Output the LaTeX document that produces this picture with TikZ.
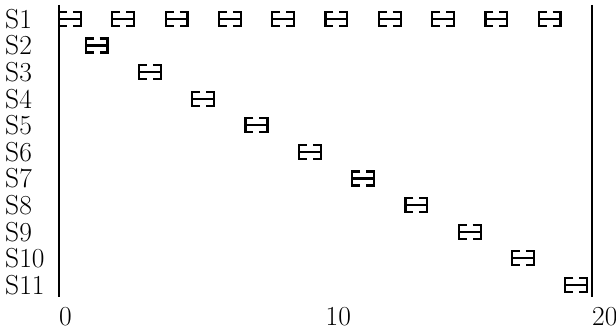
\documentclass[tikz,border=0pt]{standalone}
\begin{document}
\begin{tikzpicture}[x=1pt,y=-1pt,
  lbl/.style={inner sep=0pt,font=\fontsize{27.5}{27.5}\selectfont},
  barline/.style={line width=2.2pt,line join=miter},
  axisline/.style={line width=2pt}]
\useasboundingbox (0,0) rectangle (616,331);
\def\ox{59}\def\ux{26.65}
% vertical lines
\coordinate (atop) at (\ox,5);
\coordinate (abot) at (\ox,297);
\coordinate (btop) at ({\ox+20*\ux},5);
\coordinate (bbot) at ({\ox+20*\ux},297);
\draw[axisline] (atop) -- (abot);
\draw[axisline] (btop) -- (bbot);
% row labels
\foreach \k in {1,...,11}{
  \node[lbl,anchor=west] (s\k) at (5,{19+(\k-1)*26.6}) {S\k};
}
% tick labels
\node[lbl,anchor=north west] (t0) at (\ox,307) {0};
\node[lbl,anchor=north west] (t10) at ({\ox+10*\ux},307) {10};
\node[lbl,anchor=north west] (t20) at ({\ox+20*\ux},307) {20};
% bar macro: #1 start time, #2 row
\newcommand\gbar[2]{%
  \pgfmathsetmacro\xa{\ox+#1*\ux}%
  \pgfmathsetmacro\xb{\xa+0.82*\ux}%
  \pgfmathsetmacro\xm{(\xa+\xb)/2}%
  \pgfmathsetmacro\ym{19+(#2-1)*26.6}%
  \draw[barline] (\xm-3,\ym-7) -- (\xa,\ym-7) -- (\xa,\ym+7) -- (\xm-3,\ym+7);
  \draw[barline] (\xm+3,\ym-7) -- (\xb,\ym-7) -- (\xb,\ym+7) -- (\xm+3,\ym+7);
  \draw[barline] (\xa,\ym) -- (\xb,\ym);
}
\foreach \t in {0,2,...,18}{\gbar{\t}{1}}
\foreach \k in {2,...,11}{\pgfmathtruncatemacro\tt{2*\k-3}\gbar{\tt}{\k}}
\end{tikzpicture}
\end{document}
